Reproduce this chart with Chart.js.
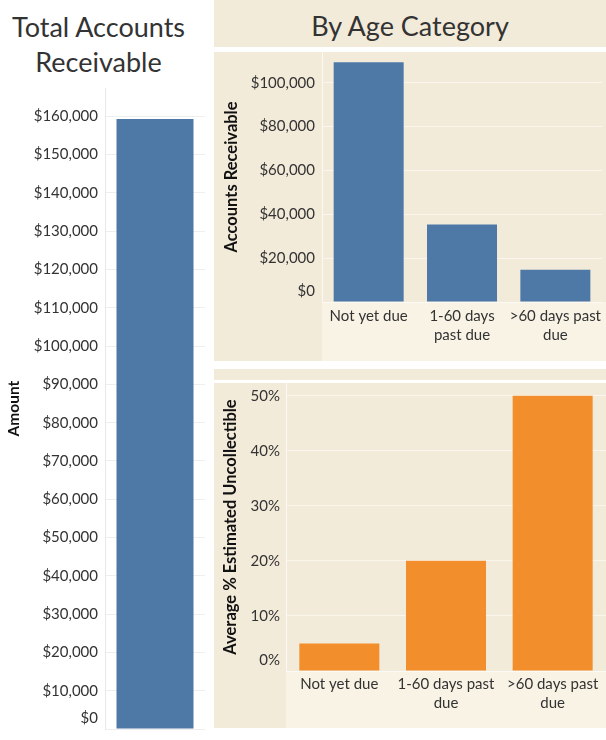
<!DOCTYPE html>
<html>
<head>
<meta charset="utf-8">
<script src="https://cdn.jsdelivr.net/npm/chart.js@4/dist/chart.umd.min.js"></script>
<style>
  body { margin: 0; background: #fff; width: 606px; height: 740px; position: relative; overflow: hidden; font-family: Lato, sans-serif; }
  .abs { position: absolute; }
  .panel { background: #f3ebda; }
  .light { background: #f9f3e6; }
  .title { color: #333; font-size: 27px; text-align: center; line-height: 35px; }
</style>
</head>
<body>
<div class="abs title" style="left:0;top:9px;width:197px;">Total Accounts<br>Receivable</div>
<div class="abs panel title" style="left:214px;top:0;width:392px;height:47px;line-height:52px;">By Age Category</div>

<div class="abs panel" style="left:214px;top:52px;width:392px;height:309px;"></div>
<div class="abs light" style="left:322px;top:302px;width:284px;height:59px;"></div>

<div class="abs panel" style="left:214px;top:369px;width:392px;height:11px;"></div>
<div class="abs panel" style="left:214px;top:383px;width:392px;height:345px;"></div>
<div class="abs light" style="left:286px;top:671px;width:320px;height:57px;"></div>

<canvas id="total-chart" class="abs" width="210" height="660" style="left:0;top:80px;"></canvas>
<canvas id="receivable-chart" class="abs" width="392" height="309" style="left:214px;top:52px;"></canvas>
<canvas id="uncollectible-chart" class="abs" width="392" height="345" style="left:214px;top:383px;"></canvas>

<script>
// data
var totalCategories = ['Total'];
var totalValues = [159300];
var totalTicks = [0, 10000, 20000, 30000, 40000, 50000, 60000, 70000, 80000,
                  90000, 100000, 110000, 120000, 130000, 140000, 150000, 160000];

var ageCategories = ['Not yet due', '1-60 days past due', '>60 days past due'];
var receivableTickLabels = [['Not yet due'], ['1-60 days', 'past due'], ['>60 days past', 'due']];
var uncollectibleTickLabels = [['Not yet due'], ['1-60 days past', 'due'], ['>60 days past', 'due']];
var receivableValues = [109300, 35300, 14700];
var receivableTicks = [0, 20000, 40000, 60000, 80000, 100000];
var uncollectiblePct = [5, 20, 50];
var uncollectibleTicks = [0, 10, 20, 30, 40, 50];

var blue = '#4e79a7';
var orange = '#f28e2b';
var textColor = '#333';

Chart.defaults.font.family = 'Lato, sans-serif';
Chart.defaults.color = textColor;

function money(v) {
    return '$' + Number(v).toLocaleString('en-US');
}

// Tableau nudges the zero label up so it is not clipped
function zeroLabel(text, v) {
    return v === 0 ? [text, ''] : text;
}
function tickFont(ctx) {
    if (ctx.tick && ctx.tick.value === 0) return { size: 15, lineHeight: 1.5 };
    return { size: 15, lineHeight: 1.2 };
}
function useTicks(values) {
    return function(s) { s.ticks = values.map(function(v) { return { value: v }; }); };
}
function fitWidth(w) {
    return function(s) { s.width = w; s.paddingTop = 0; s.paddingBottom = 0; };
}

var ctx = document.getElementById('total-chart').getContext('2d');
var totalChart = new Chart(ctx, {
    type: 'bar',
    data: {
        labels: totalCategories,
        datasets: [{
            data: totalValues,
            backgroundColor: blue,
            barPercentage: 0.77,
            categoryPercentage: 1
        }]
    },
    options: {
        responsive: false,
        animation: false,
        layout: { padding: { top: 8, right: 5, bottom: 11 } },
        plugins: { legend: { display: false }, tooltip: { enabled: false } },
        scales: {
            x: { display: false },
            y: {
                min: 0, max: 167400,
                afterBuildTicks: useTicks(totalTicks),
                afterFit: fitWidth(105),
                ticks: {
                    autoSkip: false, padding: 7,
                    color: textColor, font: tickFont,
                    callback: function(v) { return zeroLabel(money(v), v); }
                },
                grid: { color: '#eeeeee', drawTicks: false },
                border: { color: '#e8e8e8' },
                title: {
                    display: true, text: 'Amount', color: '#111',
                    font: { size: 15.5, weight: 'bold' }, padding: { top: 5, bottom: 0 }
                }
            }
        }
    }
});

var ctx = document.getElementById('receivable-chart').getContext('2d');
var receivableChart = new Chart(ctx, {
    type: 'bar',
    data: {
        labels: receivableTickLabels,
        datasets: [{
            label: 'Accounts Receivable',
            data: receivableValues,
            backgroundColor: blue,
            barPercentage: 0.75,
            categoryPercentage: 1
        }]
    },
    options: {
        responsive: false,
        animation: false,
        layout: { padding: 0 },
        plugins: { legend: { display: false }, tooltip: { enabled: false } },
        scales: {
            x: {
                afterFit: function(s) { s.height = 59; },
                ticks: { padding: 5, color: textColor, font: { size: 15, lineHeight: 1.25 }, maxRotation: 0, autoSkip: false },
                grid: { display: false, drawTicks: false },
                border: { display: false }
            },
            y: {
                min: 0, max: 114000,
                afterBuildTicks: useTicks(receivableTicks),
                afterFit: fitWidth(108),
                ticks: {
                    autoSkip: false, padding: 7,
                    color: textColor, font: tickFont,
                    callback: function(v) { return zeroLabel(money(v), v); }
                },
                grid: { color: 'rgba(255,255,255,0.55)', drawTicks: false },
                border: { color: 'rgba(255,255,255,0.7)' },
                title: {
                    display: true, text: 'Accounts Receivable', color: '#111',
                    font: { size: 16.5, weight: 'bold' }, padding: { top: 8, bottom: 0 }
                }
            }
        }
    }
});

var ctx = document.getElementById('uncollectible-chart').getContext('2d');
var uncollectibleChart = new Chart(ctx, {
    type: 'bar',
    data: {
        labels: uncollectibleTickLabels,
        datasets: [{
            label: 'Average % Estimated Uncollectible',
            data: uncollectiblePct,
            backgroundColor: orange,
            barPercentage: 0.75,
            categoryPercentage: 1
        }]
    },
    options: {
        responsive: false,
        animation: false,
        layout: { padding: 0 },
        plugins: { legend: { display: false }, tooltip: { enabled: false } },
        scales: {
            x: {
                afterFit: function(s) { s.height = 57; },
                ticks: { padding: 4, color: textColor, font: { size: 15, lineHeight: 1.25 }, maxRotation: 0, autoSkip: false },
                grid: { display: false, drawTicks: false },
                border: { display: false }
            },
            y: {
                min: 0, max: 52.3,
                afterBuildTicks: useTicks(uncollectibleTicks),
                afterFit: fitWidth(72),
                ticks: {
                    autoSkip: false, padding: 6,
                    color: textColor, font: tickFont,
                    callback: function(v) { return zeroLabel(v + '%', v); }
                },
                grid: { color: 'rgba(255,255,255,0.55)', drawTicks: false },
                border: { color: 'rgba(255,255,255,0.7)' },
                title: {
                    display: true, text: 'Average % Estimated Uncollectible', color: '#111',
                    font: { size: 16.5, weight: 'bold' }, padding: { top: 7, bottom: 0 }
                }
            }
        }
    }
});
</script>
</body>
</html>
